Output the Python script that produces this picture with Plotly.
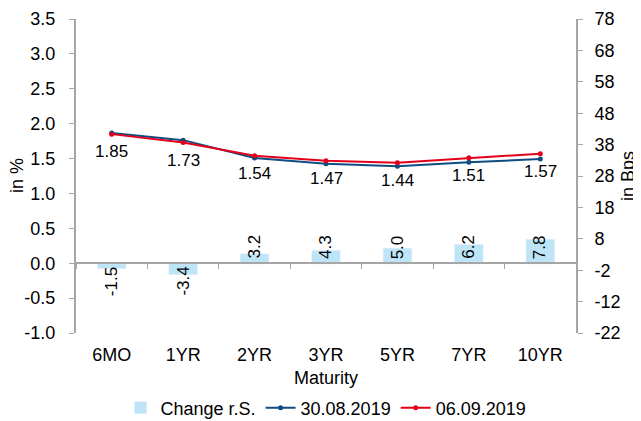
import plotly.graph_objects as go

maturity = ["6MO", "1YR", "2YR", "3YR", "5YR", "7YR", "10YR"]
change_bps = [-1.5, -3.4, 3.2, 4.3, 5.0, 6.2, 7.8]
yield_0830 = [1.865, 1.764, 1.508, 1.427, 1.39, 1.448, 1.492]
yield_0906 = [1.85, 1.73, 1.54, 1.47, 1.44, 1.51, 1.57]
left_ticks = [-1.0, -0.5, 0.0, 0.5, 1.0, 1.5, 2.0, 2.5, 3.0, 3.5]
right_ticks = [-22, -12, -2, 8, 18, 28, 38, 48, 58, 68, 78]

FONT = "Liberation Sans, Arial, sans-serif"
fig = go.Figure()

fig.add_trace(go.Bar(
    x=maturity, y=change_bps, name="Change r.S.",
    marker_color="#BDE4F7", width=0.4,
    xaxis="x2", yaxis="y2",
))
fig.add_trace(go.Scatter(
    x=maturity, y=yield_0830, name="30.08.2019", mode="lines+markers",
    line=dict(color="#0F4C81", width=2), marker=dict(size=5),
))
fig.add_trace(go.Scatter(
    x=maturity, y=yield_0906, name="06.09.2019", mode="lines+markers",
    line=dict(color="#E3001B", width=2), marker=dict(size=5),
))

# value labels under the 06.09 line
for m, v in zip(maturity, yield_0906):
    fig.add_annotation(
        x=m, y=v, text=f"{v:.2f}", showarrow=False, yanchor="top", yshift=-6,
        font=dict(size=17, color="#000000"),
    )

# rotated value labels for the change bars
for m, v in zip(maturity, change_bps):
    fig.add_annotation(
        x=m, y=0, xref="x2", yref="y2", text=f"{v:.1f}", showarrow=False,
        textangle=-90, yanchor="bottom" if v > 0 else "top",
        yshift=3 if v > 0 else -1, font=dict(size=17, color="#000000"),
    )

# axis titles placed by hand
fig.add_annotation(
    x=-0.118, y=0.5, xref="paper", yref="paper", text="in %", showarrow=False,
    textangle=-90, xanchor="center", yanchor="middle", font=dict(size=18),
)
fig.add_annotation(
    x=1.104, y=0.5, xref="paper", yref="paper", text="in Bps", showarrow=False,
    textangle=-90, xanchor="center", yanchor="middle", font=dict(size=18),
)

# page body has an 8px margin, so the figure is 8px smaller and margins shifted
fig.update_layout(
    width=633, height=413,
    margin=dict(l=68, r=65, t=11, b=88, autoexpand=False),
    plot_bgcolor="white", paper_bgcolor="white",
    font=dict(family=FONT, size=18, color="#000000"),
    showlegend=True,
    legend=dict(orientation="h", x=0.5, xanchor="center", y=-0.18, yanchor="top",
                font=dict(size=18), traceorder="normal",
                bgcolor="rgba(0,0,0,0)"),
    xaxis=dict(
        type="category", categoryarray=maturity, range=[-0.5, 6.5],
        showline=False, showgrid=False, ticks="outside", ticklen=5,
        tickcolor="rgba(0,0,0,0)", tickfont=dict(size=18), automargin=False,
        title=dict(text="Maturity", standoff=7, font=dict(size=18)),
    ),
    xaxis2=dict(
        type="category", categoryarray=maturity, range=[-0.5, 6.5],
        overlaying="x", anchor="free", position=1 / 4.5,
        showline=True, linecolor="#A6A6A6", linewidth=2,
        ticks="outside", tickson="boundaries", ticklen=5, tickcolor="#A6A6A6",
        showticklabels=False, showgrid=False, automargin=False,
    ),
    yaxis=dict(
        range=[-1.0, 3.5], tickvals=left_ticks, ticktext=[f"{t:.1f}" for t in left_ticks],
        showline=True, linecolor="#A6A6A6", linewidth=2,
        ticks="outside", ticklen=5, tickcolor="#A6A6A6", ticklabelstandoff=10,
        tickfont=dict(size=18), automargin=False,
        showgrid=False, zeroline=False,
    ),
    yaxis2=dict(
        range=[-22, 78], tickvals=right_ticks, ticktext=[str(t) for t in right_ticks],
        overlaying="y", side="right",
        showline=True, linecolor="#A6A6A6", linewidth=2,
        ticks="outside", ticklen=5, tickcolor="#A6A6A6", ticklabelstandoff=8,
        tickfont=dict(size=18), automargin=False,
        showgrid=False, zeroline=False,
    ),
)

fig.write_html("out.html")
